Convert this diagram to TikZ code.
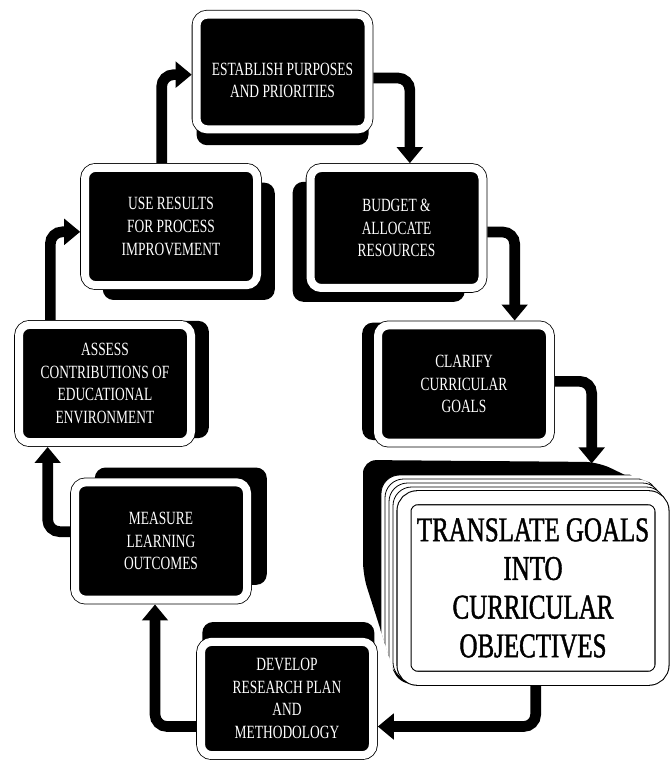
\documentclass[tikz,border=0pt]{standalone}
\usepackage{fontspec}
\newfontfamily\stepfont[FakeStretch=0.72]{Liberation Serif}
\newfontfamily\goalfont[FakeStretch=0.72, FakeBold=1.2]{Liberation Serif}
\usetikzlibrary{arrows.meta,shadows,backgrounds}

\begin{document}
\begin{tikzpicture}[x=0.75pt, y=-0.75pt,
    stagebox/.style={fill=black, draw=black, line width=0.6pt, double=white, double distance=6pt,
        rounded corners=8pt, outer sep=3.6pt, minimum width=129pt, minimum height=88pt,
        text=white, align=center, font=\stepfont\fontsize{14}{17}\selectfont},
    lift/.style 2 args={drop shadow={shadow xshift=#1, shadow yshift=#2, fill=black, opacity=1}},
    goalcard/.style={fill=white, draw=black, line width=0.8pt, double=white, double distance=9.75pt,
        rounded corners=10pt, outer sep=5.7pt, minimum width=193.5pt, minimum height=135.4pt,
        align=center, font=\goalfont\fontsize{26}{29}\selectfont},
    pagebox/.style={fill=white, draw=black, line width=0.6pt, rounded corners=14pt},
    flow/.style={line width=8pt, rounded corners=9pt, -{Triangle[width=19pt,length=12pt]}}]
    \useasboundingbox (0,0) rectangle (671,762);

    % stack of cards behind the big box
    \fill[rounded corners=10pt] (363,460) -- (598,462) -- (652,488) -- (652,680) -- (398,684) -- (363,575) -- cycle;
    \begin{scope}
        \clip[rounded corners=10pt] (363,460) -- (598,462) -- (668,490) -- (669,685) -- (398,685) -- (363,575) -- cycle;
        \foreach \k in {4,3,2,1}
            \draw[pagebox] (397-4*\k,491-4*\k) rectangle (669-4*\k,685-4*\k);
    \end{scope}

    \node[stagebox, lift={0pt}{-11.9pt}, minimum height=86pt] (establish) at (282.5,72) {\rule{0pt}{22pt}ESTABLISH PURPOSES\\AND PRIORITIES};
    \node[stagebox, lift={13.35pt}{-11.1pt}] (use) at (171,226.5) {USE RESULTS\\FOR PROCESS\\IMPROVEMENT};
    \node[stagebox, lift={-13.35pt}{-10.35pt}, minimum height=90pt] (budget) at (396.5,228) {BUDGET \&\\ALLOCATE\\RESOURCES};
    \node[stagebox, lift={13.35pt}{3pt}] (assess) at (105,383.5) {ASSESS\\CONTRIBUTIONS OF\\EDUCATIONAL\\ENVIRONMENT};
    \node[stagebox, lift={-11.85pt}{2pt}] (clarify) at (464,384) {CLARIFY\\CURRICULAR\\GOALS};
    \node[stagebox, lift={14.85pt}{11.1pt}] (measure) at (161,541) {MEASURE\\LEARNING\\OUTCOMES};
    \node[stagebox, lift={1pt}{14.85pt}, minimum height=85pt] (develop) at (287,698.5) {DEVELOP\\RESEARCH PLAN\\AND\\METHODOLOGY};
    \node[goalcard] (translate) at (533,588) {TRANSLATE GOALS\\INTO\\CURRICULAR\\OBJECTIVES};

    \begin{pgfonlayer}{background}
        \draw[flow] ([yshift=-4.5pt]establish.east) -| ([xshift=10pt]budget.north);
        \draw[flow] ([yshift=-3pt]budget.east) -| ([xshift=38pt]clarify.north);
        \draw[flow] ([yshift=2pt]clarify.east) -| ([xshift=44pt,yshift=20pt]translate.north);
        \draw[flow] ([xshift=2pt]translate.south) |- ([yshift=-21pt]develop.east);
        \draw[flow] ([yshift=-21pt]develop.west) -| ([xshift=-4.5pt]measure.south);
        \draw[flow] ([yshift=7pt]measure.west) -| ([xshift=-43pt]assess.south);
        \draw[flow] ([xshift=-41pt]assess.north) |- ([yshift=-4pt]use.west);
        \draw[flow] ([xshift=-7pt]use.north) |- ([yshift=-2pt]establish.west);
    \end{pgfonlayer}
\end{tikzpicture}
\end{document}
